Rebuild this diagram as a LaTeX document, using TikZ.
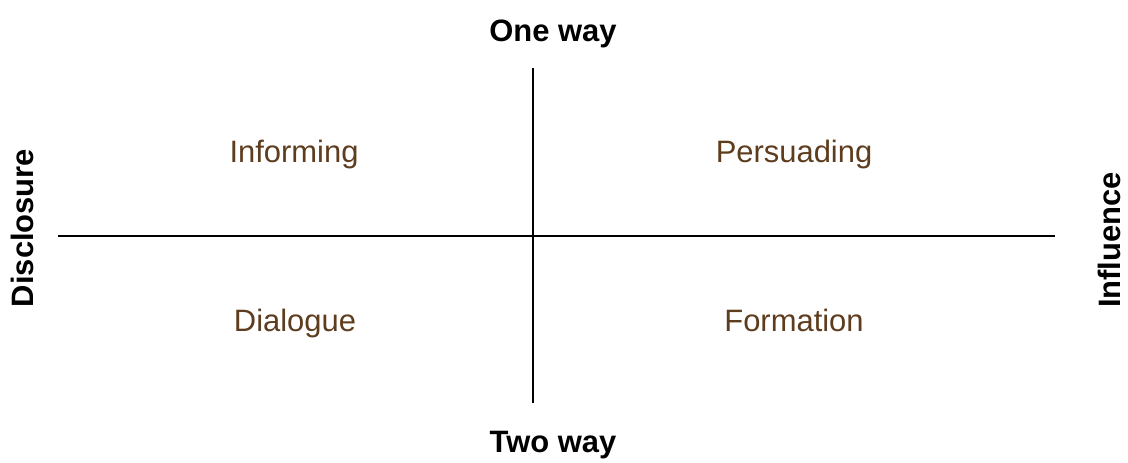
\documentclass[tikz,border=0pt]{standalone}
\usepackage{fontspec}
\setmainfont{Liberation Sans}
\definecolor{quadbrown}{HTML}{5E3C1E}
\begin{document}
\begin{tikzpicture}[
    x=0.025cm, y=-0.025cm,
    axis/.style={line width=1.4pt, color=black},
    axislabel/.style={font=\fontsize{22}{26}\selectfont\bfseries, text=black, inner sep=0pt},
    quad/.style={font=\fontsize{22}{26}\selectfont, text=quadbrown, inner sep=0pt, anchor=base},
]
\useasboundingbox (0,0) rectangle (1128,462);

% ── Axis end points ──
\coordinate (top) at (533, 68);
\coordinate (bottom) at (533, 403);
\coordinate (left) at (58, 236);
\coordinate (right) at (1055, 236);

% ── Axes ──
\draw[axis] (top) -- (bottom);
\draw[axis] (left) -- (right);

% ── Axis labels ──
\node[axislabel, anchor=base] (oneway) at (553, 41.5) {One way};
\node[axislabel, anchor=base] (twoway) at (553, 452) {Two way};
\node[axislabel, anchor=base, rotate=90] (disclosure) at (33, 228) {Disclosure};
\node[axislabel, anchor=base, rotate=90] (influence) at (1120, 240) {Influence};

% ── Quadrants ──
\node[quad] (informing) at (294, 162.7) {Informing};
\node[quad] (persuading) at (794, 162.7) {Persuading};
\node[quad] (dialogue) at (295, 331) {Dialogue};
\node[quad] (formation) at (794, 331) {Formation};

\end{tikzpicture}
\end{document}
